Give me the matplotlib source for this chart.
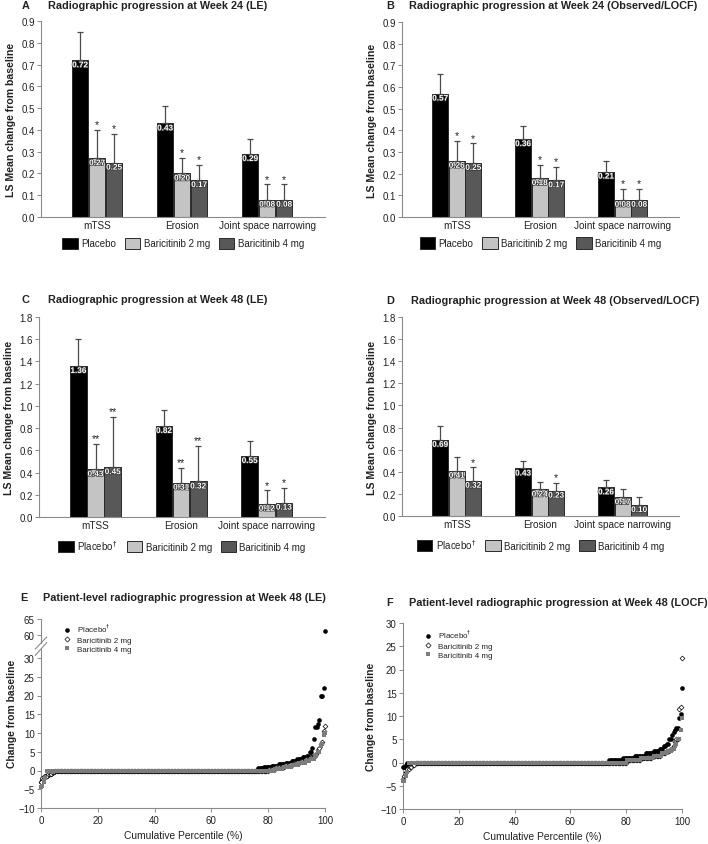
import matplotlib.pyplot as plt
import matplotlib.patheffects as pe
from matplotlib.patches import Patch
from matplotlib.lines import Line2D
import numpy as np

plt.rcParams['font.family'] = ['Liberation Sans', 'DejaVu Sans']

W, H = 708, 845

groups = ['mTSS', 'Erosion', 'Joint space narrowing']
arms = ['Placebo', 'Baricitinib 2 mg', 'Baricitinib 4 mg']
arms_dag = ['Placebo$^{\\dagger}$', 'Baricitinib 2 mg', 'Baricitinib 4 mg']

# LS mean change (rows = placebo, 2 mg, 4 mg; cols = mTSS, erosion, JSN)
a_mean = [[0.72, 0.43, 0.29], [0.27, 0.20, 0.08], [0.25, 0.17, 0.08]]
a_upper = [[0.85, 0.51, 0.36], [0.40, 0.27, 0.15], [0.38, 0.24, 0.15]]
a_star = [['', '', ''], ['*', '*', '*'], ['*', '*', '*']]

b_mean = [[0.57, 0.36, 0.21], [0.26, 0.18, 0.08], [0.25, 0.17, 0.08]]
b_upper = [[0.66, 0.42, 0.26], [0.35, 0.24, 0.13], [0.34, 0.23, 0.13]]
b_star = [['', '', ''], ['*', '*', '*'], ['*', '*', '*']]

c_mean = [[1.36, 0.82, 0.55], [0.43, 0.31, 0.12], [0.45, 0.32, 0.13]]
c_upper = [[1.60, 0.96, 0.68], [0.66, 0.44, 0.24], [0.90, 0.64, 0.26]]
c_star = [['', '', ''], ['**', '**', '*'], ['**', '**', '*']]

d_mean = [[0.69, 0.43, 0.26], [0.41, 0.24, 0.17], [0.32, 0.23, 0.10]]
d_upper = [[0.81, 0.50, 0.33], [0.53, 0.31, 0.24], [0.44, 0.30, 0.17]]
d_star = [['', '', ''], ['', '', ''], ['*', '*', '']]

# patient-level change scores: distinct values and number of patients
e_pbo_vals = [-3.0, -2.5, -2.0, -1.5, -1.2, -1.0, -0.7, -0.4, 0, 0.8, 1.0, 1.3, 1.7, 2.0, 2.5, 3.0,
              3.5, 4.0, 5.0, 6.0, 8.5, 11.5, 12.5, 13.5, 20.0, 22.0, 61.0]
e_pbo_cnt = [1, 1, 1, 2, 1, 2, 1, 1, 146, 4, 6, 5, 5, 4, 4, 4, 3, 2, 2, 1, 1, 2, 1, 1, 2, 1, 1]
e_b2_vals = [-3.0, -2.0, -1.5, -1.0, -0.5, 0, 0.5, 1.0, 1.5, 2.0, 2.5, 3.0, 3.5, 4.0, 4.5, 5.5,
             6.0, 7.0, 7.5, 10.5, 12.0]
e_b2_cnt = [1, 2, 2, 3, 2, 150, 5, 6, 6, 5, 4, 3, 2, 2, 1, 1, 1, 1, 1, 1, 1]
e_b4_vals = [-4.5, -4.0, -3.0, -2.0, 0, 0.5, 1.0, 1.5, 2.0, 2.5, 3.0, 4.0, 5.0, 6.5, 7.0, 9.5, 10.0]
e_b4_cnt = [1, 1, 1, 1, 160, 6, 6, 5, 5, 3, 3, 2, 2, 1, 1, 1, 1]

f_pbo_vals = [-1.0, -0.5, 0, 0.5, 1.0, 1.5, 2.0, 2.5, 3.0, 3.5, 4.0, 5.0, 6.0, 6.5, 7.0, 7.5,
              9.5, 10.5, 16.0]
f_pbo_cnt = [2, 1, 145, 10, 8, 8, 6, 4, 3, 2, 2, 2, 1, 1, 1, 2, 1, 1, 1]
f_b2_vals = [-3.5, -3.0, -2.0, -1.5, -1.0, -0.5, 0, 0.5, 1.0, 1.5, 2.0, 2.5, 3.0, 3.5, 4.5, 5.0,
             11.5, 12.0, 22.5]
f_b2_cnt = [1, 1, 1, 2, 2, 2, 151, 10, 8, 6, 4, 3, 2, 1, 1, 2, 1, 1, 1]
f_b4_vals = [-4.0, -3.0, -2.0, 0, 0.5, 1.0, 1.5, 2.0, 2.5, 3.0, 3.5, 4.0, 5.0, 7.0, 9.5]
f_b4_cnt = [2, 1, 1, 156, 10, 9, 6, 4, 3, 2, 1, 1, 2, 1, 1]

bar_colors = ['#000000', '#c4c4c4', '#585858']
spine_col = '#8a8a8a'
txt_col = '#222222'


def frac(l, t, r, b):
    return [l / W, 1 - b / H, (r - l) / W, (b - t) / H]


fig = plt.figure(figsize=(W / 100, H / 100), dpi=100)


def style_axes(ax):
    for s in ['top', 'right']:
        ax.spines[s].set_visible(False)
    for s in ['left', 'bottom']:
        ax.spines[s].set_color(spine_col)
        ax.spines[s].set_linewidth(0.8)
    ax.tick_params(axis='y', length=3, width=0.7, color=spine_col, labelsize=7,
                   labelcolor=txt_col, pad=1.5)


def bar_panel(rect, mean, upper, stars, ymax, ystep, legend_labels):
    ax = fig.add_axes(rect)
    style_axes(ax)
    index = np.arange(len(groups))
    width = 0.195
    handles = []
    for i in range(3):
        xs = index + (i - 1) * 0.2
        m = np.array(mean[i])
        up = np.array(upper[i])
        ax.bar(xs, m, width, color=bar_colors[i], edgecolor='#2a2a2a', linewidth=0.7, zorder=2)
        ax.errorbar(xs, m, yerr=[np.zeros_like(m), up - m], fmt='none', ecolor='#4a4a4a',
                    elinewidth=0.9, capsize=2.5, capthick=0.9, zorder=3)
        for x, v, u, s in zip(xs, m, up, stars[i]):
            t = ax.annotate('%.2f' % v, xy=(x, v), xytext=(0, -1.5), textcoords='offset points',
                            ha='center', va='top', fontsize=5.9, fontweight='bold', color='white',
                            zorder=4)
            t.set_path_effects([pe.withStroke(linewidth=1.0, foreground='#303030')])
            if s:
                ax.annotate(s, xy=(x, u), xytext=(0, 0.5), textcoords='offset points',
                            ha='center', va='bottom', fontsize=7.5, color=txt_col)
        handles.append(Patch(facecolor=bar_colors[i], edgecolor='#2a2a2a', linewidth=0.7))
    ax.set_xlim(-0.66, 2.68)
    ax.set_ylim(0, ymax)
    ax.set_yticks(np.arange(0, ymax + 1e-9, ystep))
    ax.yaxis.set_major_formatter(plt.FormatStrFormatter('%.1f'))
    ax.set_xticks(index)
    ax.set_xticklabels(groups)
    ax.tick_params(axis='x', length=0, labelsize=7.2, labelcolor=txt_col, pad=2)
    ax.set_ylabel('LS Mean change from baseline', fontsize=7.6, fontweight='bold', color=txt_col,
                  labelpad=4)
    ax.legend(handles, legend_labels, loc='upper center', bbox_to_anchor=(0.5, -0.07), ncol=3,
              frameon=False, fontsize=7, handlelength=1.6, handleheight=1.4, handletextpad=0.35,
              columnspacing=0.9, borderpad=0.2, labelcolor=txt_col)
    return ax


axA = bar_panel(frac(41, 22, 325, 218), a_mean, a_upper, a_star, 0.9, 0.1, arms)
axB = bar_panel(frac(402, 23, 679, 218), b_mean, b_upper, b_star, 0.9, 0.1, arms)
axC = bar_panel(frac(39, 318, 325, 518), c_mean, c_upper, c_star, 1.8, 0.2, arms_dag)
axD = bar_panel(frac(402, 318, 679, 517), d_mean, d_upper, d_star, 1.8, 0.2, arms_dag)


def expand(vals, cnt):
    y = np.repeat(vals, cnt)
    x = np.arange(len(y)) / (len(y) - 1) * 100
    return x, y


def scatter_series(ax, series, lo, hi):
    styles = [
        dict(s=11, marker='o', color='black', linewidths=0, zorder=3),
        dict(s=6, marker='D', facecolor='white', edgecolor='black', linewidths=0.5, zorder=4),
        dict(s=9, marker='s', color='#7c7c7c', linewidths=0, zorder=5),
    ]
    for (x, y), st in zip(series, styles):
        keep = (y >= lo) & (y <= hi)
        ax.scatter(x[keep], y[keep], clip_on=False, **st)


def xstyle(ax):
    ax.set_xlim(0, 100)
    ax.set_xticks([0, 20, 40, 60, 80, 100])
    ax.tick_params(axis='x', length=3, width=0.7, color=spine_col, labelsize=7,
                   labelcolor=txt_col, pad=2)
    ax.set_xlabel('Cumulative Percentile (%)', fontsize=7.4, color=txt_col, labelpad=4)


e_series = [expand(e_pbo_vals, e_pbo_cnt), expand(e_b2_vals, e_b2_cnt), expand(e_b4_vals, e_b4_cnt)]
f_series = [expand(f_pbo_vals, f_pbo_cnt), expand(f_b2_vals, f_b2_cnt), expand(f_b4_vals, f_b4_cnt)]

# panel E, broken y axis
axEt = fig.add_axes(frac(41, 620, 325, 644))
axEb = fig.add_axes(frac(41, 650, 325, 809))
style_axes(axEt)
style_axes(axEb)
scatter_series(axEt, e_series, 57.3, 65)
scatter_series(axEb, e_series, -10, 32.4)
axEt.set_ylim(57.3, 65)
axEt.set_yticks([60, 65])
axEt.set_xlim(0, 100)
axEt.spines['bottom'].set_visible(False)
axEt.set_xticks([])
axEb.set_ylim(-10, 32.4)
axEb.set_yticks(np.arange(-10, 31, 5))
xstyle(axEb)
axEt.plot([-0.02, 0.02], [-0.25, 0.25], transform=axEt.transAxes, color=spine_col, lw=0.8,
          clip_on=False)
axEb.plot([-0.02, 0.02], [0.96, 1.04], transform=axEb.transAxes, color=spine_col, lw=0.8,
          clip_on=False)
axEb.set_ylabel('Change from baseline', fontsize=7.4, fontweight='bold', color=txt_col)
axEb.yaxis.set_label_coords(-0.085, 0.6)

# panel F
axF = fig.add_axes(frac(403, 624, 682, 810))
style_axes(axF)
scatter_series(axF, f_series, -10, 30)
axF.set_ylim(-10, 30)
axF.set_yticks(np.arange(-10, 31, 5))
xstyle(axF)
axF.set_ylabel('Change from baseline', fontsize=7.4, fontweight='bold', color=txt_col, labelpad=3)

leg_handles = [
    Line2D([], [], ls='none', marker='o', markersize=3.3, color='black', markeredgewidth=0),
    Line2D([], [], ls='none', marker='D', markersize=2.6, markerfacecolor='white',
           markeredgecolor='black', markeredgewidth=0.5),
    Line2D([], [], ls='none', marker='s', markersize=3.0, color='#7c7c7c', markeredgewidth=0),
]
for x0, y0 in ((58, 619), (419, 625)):
    fig.legend(leg_handles, arms_dag, loc='upper left', bbox_to_anchor=(x0 / W, 1 - y0 / H),
               frameon=False, fontsize=5.8, handlelength=1.2, handletextpad=0.6,
               labelspacing=0.2, borderpad=0, labelcolor=txt_col)

# panel letters and titles
titles = [
    ('A', 22, 48, 6, 'Radiographic progression at Week 24 (LE)'),
    ('B', 386, 409, 6, 'Radiographic progression at Week 24 (Observed/LOCF)'),
    ('C', 22, 48, 300, 'Radiographic progression at Week 48 (LE)'),
    ('D', 386, 411, 301, 'Radiographic progression at Week 48 (Observed/LOCF)'),
    ('E', 20, 43, 598, 'Patient-level radiographic progression at Week 48 (LE)'),
    ('F', 386, 409, 603, 'Patient-level radiographic progression at Week 48 (LOCF)'),
]
for letter, lx, tx, ty, title in titles:
    fig.text(lx / W, 1 - ty / H, letter, fontsize=7.8, fontweight='bold', color=txt_col,
             ha='left', va='center')
    fig.text(tx / W, 1 - ty / H, title, fontsize=7.8, fontweight='bold', color=txt_col,
             ha='left', va='center')

fig.savefig('out.png', dpi=100, facecolor='white')
